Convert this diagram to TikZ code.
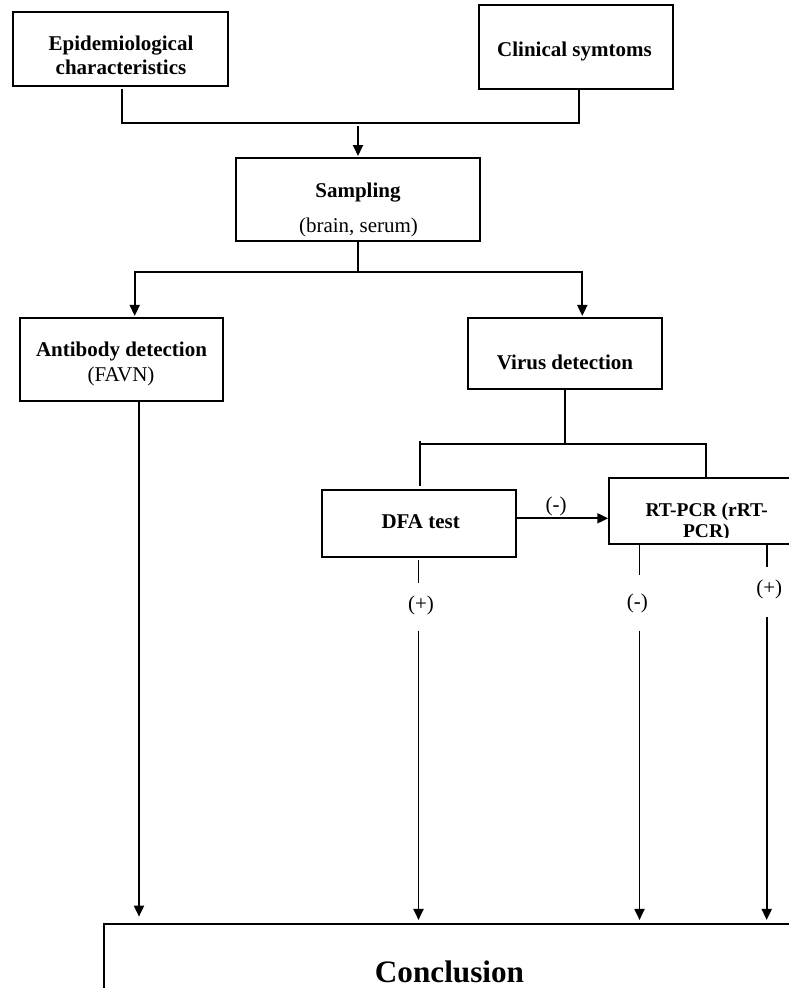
\documentclass[tikz,border=0pt]{standalone}
\usepackage{fontspec}
\setmainfont{Liberation Serif}
\usetikzlibrary{arrows.meta}
\begin{document}
\begin{tikzpicture}[x=1pt,y=-1pt,
  box/.style={draw, line width=2.1pt, inner sep=0pt},
  txt/.style={inner sep=0pt, anchor=base, font=\fontsize{21}{25}\selectfont},
  btxt/.style={inner sep=0pt, anchor=base, font=\fontsize{21}{25}\selectfont\bfseries},
  conn/.style={line width=1.9pt},
  arr/.style={conn, -{Triangle[length=11pt,width=10pt]}}]
\clip (0,0) rectangle (789,988);
\fill[white] (0,0) rectangle (789,988);

% ---- boxes
\node[box, minimum width=215pt, minimum height=73.4pt] (epi) at (120.2,49) {};
\node[btxt] (epiT1) at (121,50) {Epidemiological};
\node[btxt] (epiT2) at (121,74) {characteristics};

\node[box, minimum width=193.7pt, minimum height=84.3pt] (clin) at (575.85,47.15) {};
\node[btxt] (clinT) at (574.5,56) {Clinical symtoms};

\node[box, minimum width=244pt, minimum height=82.7pt] (samp) at (358,199.4) {};
\node[btxt] (sampT1) at (358,197) {Sampling};
\node[txt] (sampT2) at (358.5,232) {(brain, serum)};

\node[box, minimum width=202.7pt, minimum height=82.7pt] (ab) at (121.35,359.35) {};
\node[btxt] (abT1) at (121.5,356) {Antibody detection};
\node[txt] (abT2) at (121,381) {(FAVN)};

\node[box, minimum width=193.4pt, minimum height=71.3pt] (vir) at (565,353.65) {};
\node[btxt] (virT) at (565,369.5) {Virus detection};

\node[box, minimum width=193.7pt, minimum height=66.7pt] (dfa) at (419.15,523.35) {};
\node[btxt] (dfaT) at (420.7,528.3) {DFA test};

\node[box, minimum width=193.4pt, minimum height=65.7pt] (rt) at (706,511.15) {};
\begin{scope}
  \clip (609.3,478.3) rectangle (802,537);
  \node[btxt, font=\fontsize{19.5}{20.6}\selectfont\bfseries] (rtT1) at (706.7,516.7) {RT-PCR (rRT-};
  \node[btxt, font=\fontsize{19.5}{20.6}\selectfont\bfseries] (rtT2) at (706.3,537.3) {PCR)};
\end{scope}

\node[box, minimum width=700.7pt, minimum height=86.3pt] (conc) at (454.65,966.85) {};
\node[btxt, font=\fontsize{31.2}{36}\selectfont\bfseries] (concT) at (449.5,982.5) {Conclusion};

% ---- labels
\node[txt] (lm) at (556,511.2) {(-)};
\node[txt] (lp1) at (421,610) {(+)};
\node[txt] (lm2) at (637.3,608) {(-)};
\node[txt] (lp2) at (769.3,594.5) {(+)};

% ---- top connectors
\coordinate (eL) at (121.7,123);
\coordinate (cR) at (579.3,123);
\coordinate (j1) at (358,123);
\draw[conn] ([yshift=-2.3pt]eL |- epi.south) -- (eL) -- (cR) -- (cR |- clin.south);
\draw[arr, shorten <=3pt, shorten >=1pt] (j1) -- (samp.north);

% ---- sampling split
\coordinate (j2) at (358,272);
\coordinate (aL) at (134.7,272);
\coordinate (vR) at (582.3,272);
\draw[conn] (samp.south) -- (j2);
\draw[arr, shorten >=1pt] (j2) -- (aL) -- (aL |- ab.north);
\draw[arr, shorten >=1pt] (j2) -- (vR) -- (vR |- vir.north);

% ---- virus split
\coordinate (j3) at (565,444.3);
\coordinate (dL) at (419.7,444.3);
\coordinate (dTick) at (419.7,440.5);
\coordinate (dEnd) at (419.7,486.3);
\coordinate (rR) at (706.3,444.3);
\draw[conn] (vir.south) -- (j3);
\draw[conn] (dTick) -- (dEnd);
\draw[conn] (dL) -- (rR) -- (rR |- rt.north);

% ---- DFA -> RT-PCR
\coordinate (m1) at (516,518.3);
\draw[arr] (m1) -- (m1 -| rt.west);

% ---- result lines
\coordinate (p1a) at (418.5,560);   \coordinate (p1b) at (418.5,583.3); \coordinate (p1c) at (418.5,630.7);
\coordinate (p2a) at (639.5,542.7); \coordinate (p2b) at (639.5,575);   \coordinate (p2c) at (639.5,630.7);
\coordinate (p3a) at (766.7,544);   \coordinate (p3b) at (766.7,566.7); \coordinate (p3c) at (766.7,616.7);
\coordinate (abx) at (139,401);
\draw[conn] (p1a) -- (p1b);
\draw[conn] (p2a) -- (p2b);
\draw[conn] (p3a) -- (p3b);
\draw[arr, shorten >=2.7pt] (p1c) -- (p1c |- conc.north);
\draw[arr, shorten >=2.7pt] (p2c) -- (p2c |- conc.north);
\draw[arr, shorten >=2.7pt] (p3c) -- (p3c |- conc.north);
\draw[arr, shorten >=6pt] (abx |- ab.south) -- (abx |- conc.north);
\end{tikzpicture}
\end{document}
